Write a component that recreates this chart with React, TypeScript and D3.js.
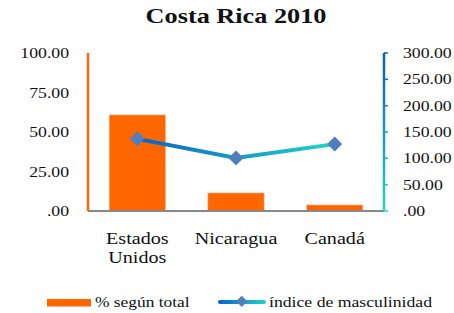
import * as d3 from "d3";

const categories = ["Estados Unidos", "Nicaragua", "Canadá"];
const percent = [60.8, 11.4, 3.8];
const masc = [137, 100.5, 127];
const leftTicks = [0, 25, 50, 75, 100];
const rightTicks = [0, 50, 100, 150, 200, 250, 300];

const W = 454;
const H = 313;
const margin = { top: 53, right: 70, bottom: 102, left: 88 };
const FONT = "'Liberation Serif', 'Times New Roman', serif";

const fmt = (v: number) => (v === 0 ? ".00" : v.toFixed(2));

// stretched serif text, like the reference's wide glyphs
function T(props: {
  x: number;
  y: number;
  size: number;
  sx?: number;
  anchor?: "start" | "middle" | "end";
  bold?: boolean;
  children: React.ReactNode;
}) {
  const { x, y, size, sx = 1.18, anchor = "start", bold, children } = props;
  return (
    <text
      transform={`translate(${x},${y}) scale(${sx},1)`}
      textAnchor={anchor}
      fontSize={size}
      fontWeight={bold ? "bold" : "normal"}
      style={{ fontFamily: FONT }}
      fill="#111"
    >
      {children}
    </text>
  );
}

export default function App() {
  const x = d3
    .scaleBand()
    .domain(categories)
    .range([margin.left, W - margin.right])
    .paddingInner(0.43)
    .paddingOuter(0.215);
  const y = d3.scaleLinear().domain([0, 100]).range([H - margin.bottom, margin.top]);
  const y2 = d3.scaleLinear().domain([0, 300]).range([H - margin.bottom, margin.top]);
  const cx = (c: string) => (x(c) ?? 0) + x.bandwidth() / 2;

  const line = d3
    .line<number>()
    .x((_, i) => cx(categories[i]))
    .y((d) => y2(d));

  const x0 = margin.left;
  const x1 = W - margin.right;
  const base = y(0);

  return (
    <svg width={W} height={H} style={{ position: "absolute", left: 0, top: 0 }}>
      <defs>
        <linearGradient id="lineGrad" gradientUnits="userSpaceOnUse" x1={cx(categories[0])} x2={cx(categories[2])} y1={0} y2={0}>
          <stop offset="0" stopColor="#0a62c8" />
          <stop offset="1" stopColor="#1fd6c8" />
        </linearGradient>
        <linearGradient id="axisGrad" gradientUnits="userSpaceOnUse" x1={0} x2={0} y1={margin.top} y2={base}>
          <stop offset="0" stopColor="#0a5cc4" />
          <stop offset="1" stopColor="#1fd8c0" />
        </linearGradient>
        <linearGradient id="legGrad" x1="0" x2="1" y1="0" y2="0">
          <stop offset="0" stopColor="#0a62c8" />
          <stop offset="1" stopColor="#1fd6c8" />
        </linearGradient>
      </defs>

      <T x={236} y={23} size={21} sx={1.25} anchor="middle" bold>
        Costa Rica 2010
      </T>

      {/* bars */}
      {categories.map((c, i) => (
        <rect
          key={c}
          x={x(c)}
          y={y(percent[i])}
          width={x.bandwidth()}
          height={base - y(percent[i])}
          fill="#ff6600"
          stroke="#ffb080"
          strokeWidth={0.6}
        />
      ))}

      {/* baseline */}
      <line x1={x0} x2={x1} y1={base} y2={base} stroke="#888" strokeWidth={2} />

      {/* left axis */}
      <line x1={x0} x2={x0} y1={margin.top} y2={base} stroke="#ff6600" strokeWidth={2.5} />
      {leftTicks.map((t) => (
        <T key={t} x={69} y={y(t) + 5} size={15} anchor="end">
          {fmt(t)}
        </T>
      ))}

      {/* right axis */}
      <line x1={x1} x2={x1} y1={margin.top} y2={base} stroke="url(#axisGrad)" strokeWidth={2.5} />
      {rightTicks.map((t) => (
        <g key={t}>
          <line x1={x1} x2={x1 + 4} y1={y2(t)} y2={y2(t)} stroke="url(#axisGrad)" strokeWidth={1.5} />
          <T x={403} y={y2(t) + 5} size={15}>
            {fmt(t)}
          </T>
        </g>
      ))}

      {/* line series */}
      <path d={line(masc) ?? ""} fill="none" stroke="url(#lineGrad)" strokeWidth={4} />
      {masc.map((v, i) => (
        <rect
          key={i}
          x={cx(categories[i]) - 5.3}
          y={y2(v) - 5.3}
          width={10.6}
          height={10.6}
          fill="#4f7fc0"
          transform={`rotate(45 ${cx(categories[i])} ${y2(v)})`}
        />
      ))}

      {/* category labels */}
      {categories.map((c) => {
        const words = c === "Estados Unidos" ? ["Estados", "Unidos"] : [c];
        return words.map((w, j) => (
          <T key={c + j} x={cx(c)} y={244 + j * 19} size={16.5} sx={1.22} anchor="middle">
            {w}
          </T>
        ));
      })}

      {/* legend */}
      <rect x={47} y={299} width={44} height={7.5} fill="#ff6600" />
      <T x={95} y={307} size={15} sx={1.16}>
        % según total
      </T>
      <rect x={218} y={300} width={48} height={4} rx={2} fill="url(#legGrad)" />
      <rect x={237} y={297} width={8} height={8} fill="#4f7fc0" transform="rotate(45 241 302)" />
      <T x={269} y={307} size={15}>
        índice de masculinidad
      </T>
    </svg>
  );
}
